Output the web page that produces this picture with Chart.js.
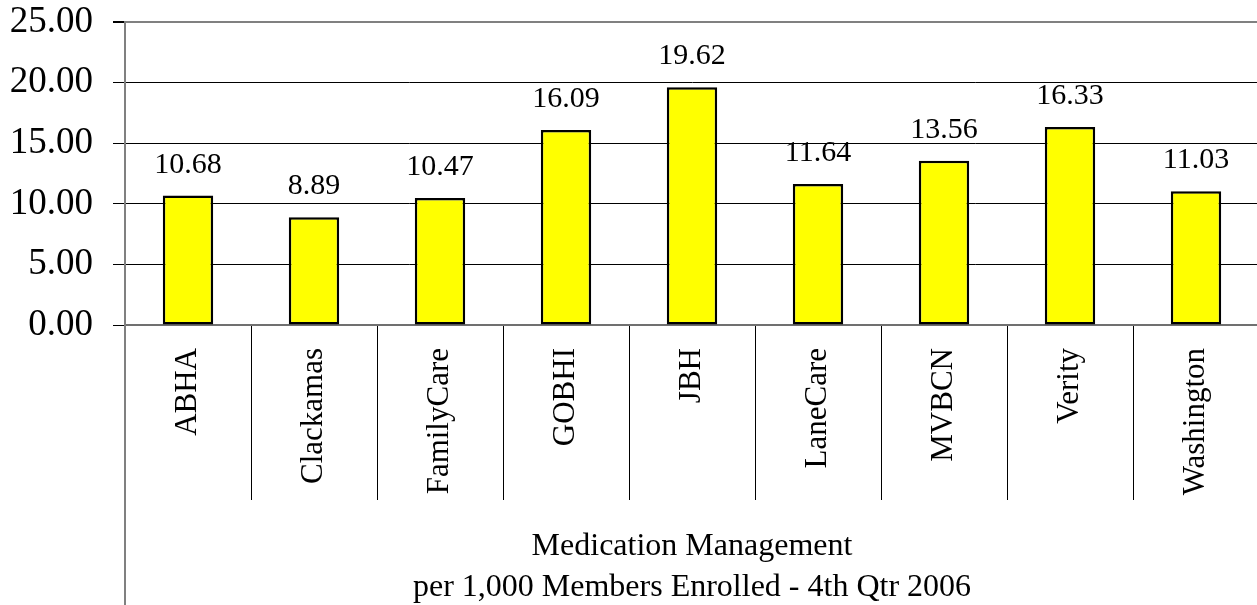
<!DOCTYPE html>
<html>
<head>
<meta charset="utf-8">
<script src="https://cdn.jsdelivr.net/npm/chart.js@4/dist/chart.umd.min.js"></script>
<style>
  html, body { margin: 0; padding: 0; background: #fff; overflow: hidden; }
  #wrap { width: 1262px; height: 605px; position: relative; }
</style>
</head>
<body>
<div id="wrap"><canvas id="c"></canvas></div>
<script>
const categories = ['ABHA', 'Clackamas', 'FamilyCare', 'GOBHI', 'JBH', 'LaneCare', 'MVBCN', 'Verity', 'Washington'];
const values = [10.68, 8.89, 10.47, 16.09, 19.62, 11.64, 13.56, 16.33, 11.03];
const yTicks = [0, 5, 10, 15, 20, 25];
const axisTitle = ['Medication Management', 'per 1,000 Members Enrolled - 4th Qtr 2006'];

const FONT = '"Liberation Serif", "Times New Roman", serif';

const valueLabels = {
  id: 'valueLabels',
  afterDatasetsDraw(chart) {
    const ctx = chart.ctx;
    const meta = chart.getDatasetMeta(0);
    ctx.save();
    ctx.font = '30px ' + FONT;
    ctx.fillStyle = '#000';
    ctx.textAlign = 'center';
    ctx.textBaseline = 'alphabetic';
    meta.data.forEach((bar, i) => {
      ctx.fillText(values[i].toFixed(2), bar.x, bar.y - 23);
    });
    ctx.restore();
  }
};

const axisExtension = {
  id: 'axisExtension',
  afterDraw(chart) {
    const ctx = chart.ctx;
    const a = chart.chartArea;
    ctx.save();
    ctx.strokeStyle = '#808080';
    ctx.lineWidth = 2;
    ctx.beginPath();
    ctx.moveTo(a.left, a.bottom);
    ctx.lineTo(a.left, chart.height);
    ctx.stroke();
    ctx.restore();
  }
};

new Chart(document.getElementById('c'), {
  type: 'bar',
  data: {
    labels: categories,
    datasets: [{
      data: values,
      backgroundColor: '#FFFF00',
      borderColor: '#000000',
      borderWidth: 2.5,
      borderSkipped: false,
      barPercentage: 0.4,
      categoryPercentage: 1.0
    }]
  },
  options: {
    responsive: true,
    maintainAspectRatio: false,
    animation: false,
    layout: { padding: { top: 22, right: 3, left: 0, bottom: 0 } },
    plugins: {
      legend: { display: false },
      tooltip: { enabled: false }
    },
    scales: {
      x: {
        offset: true,
        grid: {
          offset: true,
          drawOnChartArea: false,
          drawTicks: true,
          tickLength: 175,
          color: '#000000',
          lineWidth: 1
        },
        border: { display: true, color: '#707070', width: 2 },
        ticks: {
          autoSkip: false,
          minRotation: 90,
          maxRotation: 90,
          padding: -152,
          color: '#000000',
          font: { family: FONT, size: 31, lineHeight: 1.0 }
        },
        title: {
          display: true,
          text: axisTitle,
          color: '#000000',
          font: { family: FONT, size: 32, lineHeight: 1.28125 },
          padding: { top: 0, bottom: -3.5 }
        },
        afterFit(scale) { scale.height = 280; scale.paddingLeft = 0; scale.paddingRight = 0; }
      },
      y: {
        min: yTicks[0],
        max: yTicks[yTicks.length - 1],
        afterBuildTicks(scale) { scale.ticks = yTicks.map(v => ({ value: v })); },
        grid: {
          color: (c) => (c.tick && c.tick.value === 25) ? '#808080' : '#000000',
          lineWidth: (c) => (c.tick && c.tick.value === 25) ? 2 : 1,
          tickColor: '#000000',
          tickLength: 12,
          drawTicks: true
        },
        border: { display: true, color: '#808080', width: 2 },
        ticks: {
          padding: 20,
          color: '#000000',
          font: { family: FONT, size: 37, lineHeight: 1.0 },
          callback: (v) => Number(v).toFixed(2)
        },
        afterFit(scale) { scale.width = 125; scale.paddingTop = 0; scale.paddingBottom = 0; }
      }
    }
  },
  plugins: [valueLabels, axisExtension]
});
</script>
</body>
</html>
